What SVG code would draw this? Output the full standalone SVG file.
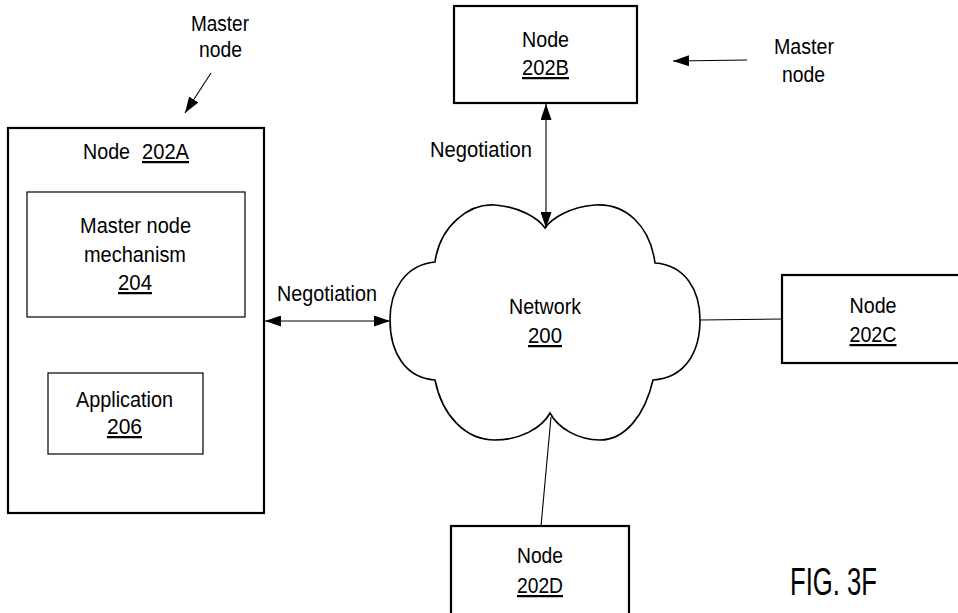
<svg xmlns="http://www.w3.org/2000/svg" width="958" height="613" viewBox="0 0 958 613">
  <style>
    text { font-family: "Liberation Sans", Arial, sans-serif; font-size: 22.5px; fill: #000; }
    .c { text-anchor: middle; }
    .u { text-decoration: underline; }
    .box { fill: #fff; stroke: #000; stroke-width: 2.2; }
    .inner { fill: #fff; stroke: #000; stroke-width: 1.2; }
    .cloud { fill: #fff; stroke: #000; stroke-width: 1.6; }
    .ln { fill: none; stroke: #000; stroke-width: 1.1; }
  </style>
  <defs>
    <marker id="ah" markerUnits="userSpaceOnUse" markerWidth="16" markerHeight="11" refX="16" refY="5.5" orient="auto-start-reverse">
      <path d="M0,0 L16,5.5 L0,11 z" fill="#000"/>
    </marker>
  </defs>
  <rect width="958" height="613" fill="#fff"/>

  <g id="node-202A">
    <rect class="box" x="8" y="128" width="256" height="385"/>
    <text y="159"><tspan x="83" textLength="47" lengthAdjust="spacingAndGlyphs">Node</tspan><tspan x="142" class="u" textLength="47" lengthAdjust="spacingAndGlyphs">202A</tspan></text>
  </g>
  <g id="master-node-mechanism-204">
    <rect class="inner" x="27" y="192" width="218" height="125"/>
    <text class="c" x="135.5" y="233" textLength="111" lengthAdjust="spacingAndGlyphs">Master node</text>
    <text class="c" x="135" y="262" textLength="102" lengthAdjust="spacingAndGlyphs">mechanism</text>
    <text class="c u" x="135" y="290" textLength="34" lengthAdjust="spacingAndGlyphs">204</text>
  </g>
  <g id="application-206">
    <rect class="inner" x="48" y="373" width="155" height="81"/>
    <text class="c" x="124.5" y="407" textLength="97" lengthAdjust="spacingAndGlyphs">Application</text>
    <text class="c u" x="124.5" y="434" textLength="35" lengthAdjust="spacingAndGlyphs">206</text>
  </g>

  <g id="node-202B">
    <rect class="box" x="454" y="6" width="183" height="97"/>
    <text class="c" x="545.5" y="47" textLength="47" lengthAdjust="spacingAndGlyphs">Node</text>
    <text class="c u" x="545.5" y="75" textLength="47" lengthAdjust="spacingAndGlyphs">202B</text>
  </g>

  <g id="network-200">
    <path class="cloud" d="M435,262 C440,225 470,203 495,205 C520,207 538,218 545,228 C552,218 570,207 595,205 C625,203 650,225 655,263 C685,265 700,290 700,320 C700,352 685,378 653,380 C645,415 625,440 600,440 C578,440 558,428 550,413 C542,428 520,440 495,440 C465,440 442,415 435,380 C405,378 390,352 390,320 C390,290 405,265 435,262 Z"/>
    <text class="c" x="545" y="314" textLength="72" lengthAdjust="spacingAndGlyphs">Network</text>
    <text class="c u" x="545" y="343" textLength="34" lengthAdjust="spacingAndGlyphs">200</text>
  </g>

  <g id="node-202C">
    <rect class="box" x="782" y="275" width="190" height="88"/>
    <text class="c" x="873" y="313" textLength="47" lengthAdjust="spacingAndGlyphs">Node</text>
    <text class="c u" x="873" y="342" textLength="47" lengthAdjust="spacingAndGlyphs">202C</text>
  </g>

  <g id="node-202D">
    <rect class="box" x="451" y="526" width="178" height="96"/>
    <text class="c" x="540" y="563" textLength="46" lengthAdjust="spacingAndGlyphs">Node</text>
    <text class="c u" x="540" y="593" textLength="46" lengthAdjust="spacingAndGlyphs">202D</text>
  </g>

  <g id="connectors">
    <line class="ln" x1="265" y1="321" x2="390" y2="321" marker-start="url(#ah)" marker-end="url(#ah)"/>
    <line class="ln" x1="546" y1="104" x2="546" y2="228" marker-start="url(#ah)" marker-end="url(#ah)"/>
    <line class="ln" x1="700" y1="320" x2="782" y2="319"/>
    <line class="ln" x1="551" y1="417" x2="541" y2="526"/>
    <line class="ln" x1="211" y1="73" x2="185" y2="113" marker-end="url(#ah)"/>
    <line class="ln" x1="747" y1="60" x2="673" y2="61" marker-end="url(#ah)"/>
  </g>

  <g id="labels">
    <text class="c" x="327" y="301" textLength="100" lengthAdjust="spacingAndGlyphs">Negotiation</text>
    <text class="c" x="481" y="157" textLength="102" lengthAdjust="spacingAndGlyphs">Negotiation</text>
    <text class="c" x="220" y="31" textLength="58" lengthAdjust="spacingAndGlyphs">Master</text>
    <text class="c" x="220.5" y="57" textLength="43" lengthAdjust="spacingAndGlyphs">node</text>
    <text class="c" x="804" y="54" textLength="60" lengthAdjust="spacingAndGlyphs">Master</text>
    <text class="c" x="803.5" y="82" textLength="43" lengthAdjust="spacingAndGlyphs">node</text>
    <text class="c" x="833.5" y="595" style="font-size:38px" textLength="87" lengthAdjust="spacingAndGlyphs">FIG. 3F</text>
  </g>
</svg>
